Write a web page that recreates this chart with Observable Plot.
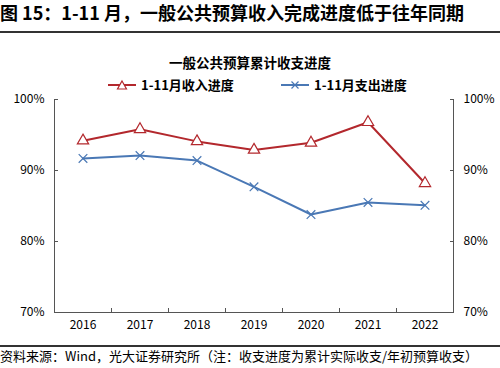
<!DOCTYPE html>
<html><head><meta charset="utf-8">
<script src="https://cdn.jsdelivr.net/npm/d3@7"></script>
<script src="https://cdn.jsdelivr.net/npm/@observablehq/plot@0.6"></script>
<style>
body{margin:0;width:500px;height:368px;overflow:hidden;background:#fff;font-family:"Noto Sans CJK SC",sans-serif;position:relative;color:#000}
.abs{position:absolute;white-space:nowrap}
#title{left:0;top:0;font-size:18px;font-weight:bold;line-height:24px}
.rule{left:0;width:500px;height:2px;background:#333}
#ctitle{left:0;width:500px;text-align:center;top:53px;font-size:13.5px;font-weight:bold;line-height:18px}
.leg{top:76px;font-size:13px;font-weight:bold;line-height:18px;display:flex;align-items:center}
#chart{left:0;top:90px}
#cap{left:0;top:347px;font-size:13px;line-height:18px}
</style></head>
<body>
<div id="title" class="abs">图 15：1-11 月，一般公共预算收入完成进度低于往年同期</div>
<div class="abs rule" style="top:31px"></div>
<div id="ctitle" class="abs">一般公共预算累计收支进度</div>
<div id="leg1" class="abs leg" style="left:108px"></div>
<div id="leg2" class="abs leg" style="left:281px"></div>
<div id="chart" class="abs"></div>
<div class="abs rule" style="top:345px;height:1.5px"></div>
<div id="cap" class="abs">资料来源：Wind，光大证券研究所（注：收支进度为累计实际收支/年初预算收支）</div>
<script>
const years = [2016, 2017, 2018, 2019, 2020, 2021, 2022];
const income = [94.2, 95.8, 94.1, 92.9, 93.9, 96.8, 88.2];
const spending = [91.7, 92.1, 91.4, 87.7, 83.8, 85.5, 85.1];
const yTicks = [70, 80, 90, 100];
const seriesNames = ["1-11月收入进度", "1-11月支出进度"];
const red = "#B3282D", blue = "#4A78B5";

const incomeData = years.map((y, i) => ({year: y, v: income[i]}));
const spendData = years.map((y, i) => ({year: y, v: spending[i]}));
const bounds = [years[0] - 0.5, ...years.map(y => y + 0.5)];

const plot = Plot.plot({
  width: 500, height: 252,
  marginLeft: 54, marginRight: 47, marginTop: 9, marginBottom: 30,
  style: {fontFamily: '"Noto Sans CJK SC",sans-serif', fontSize: "12px", color: "#000", background: "transparent"},
  x: {domain: [years[0] - 0.5, years[years.length - 1] + 0.5]},
  y: {domain: [70, 100]},
  marks: [
    Plot.axisY({ticks: yTicks, tickFormat: d => d + "%", anchor: "left", tickSize: -4, tickPadding: 14, label: null, stroke: "#555", fontSize: 12}),
    Plot.axisY({ticks: yTicks, tickFormat: d => d + "%", anchor: "right", tickSize: -4, tickPadding: 14, label: null, stroke: "#555", fontSize: 12}),
    Plot.ruleX([years[0] - 0.5], {stroke: "#555"}),
    Plot.ruleX([years[years.length - 1] + 0.5], {stroke: "#555"}),
    Plot.ruleY([70], {stroke: "#555"}),
    Plot.axisX({ticks: bounds, tickSize: -4, tickFormat: () => "", label: null, stroke: "#555"}),
    Plot.axisX({ticks: years, tickSize: 0, tickPadding: 8, tickFormat: d => String(d), label: null, fontSize: 12}),
    Plot.line(incomeData, {x: "year", y: "v", stroke: red, strokeWidth: 2}),
    Plot.dot(incomeData, {x: "year", y: "v", symbol: "triangle", r: 4.2, stroke: red, fill: "white", strokeWidth: 1.2}),
    Plot.line(spendData, {x: "year", y: "v", stroke: blue, strokeWidth: 2}),
    Plot.dot(spendData, {x: "year", y: "v", symbol: "times", r: 4, stroke: blue, strokeWidth: 1.2})
  ]
});
document.getElementById("chart").appendChild(plot);

function swatch(color, kind) {
  let m = kind === "tri"
    ? `<path d="M14,3 L18.5,11 L9.5,11 Z" fill="white" stroke="${color}" stroke-width="1.2"/>`
    : `<path d="M10.5,3.5 L17.5,10.5 M17.5,3.5 L10.5,10.5" stroke="${color}" stroke-width="1.2"/>`;
  return `<svg width="30" height="14" style="margin-right:3px"><line x1="0" y1="7" x2="28" y2="7" stroke="${color}" stroke-width="2"/>${m}</svg>`;
}
document.getElementById("leg1").innerHTML = swatch(red, "tri") + seriesNames[0];
document.getElementById("leg2").innerHTML = swatch(blue, "x") + seriesNames[1];
</script>
</body></html>
